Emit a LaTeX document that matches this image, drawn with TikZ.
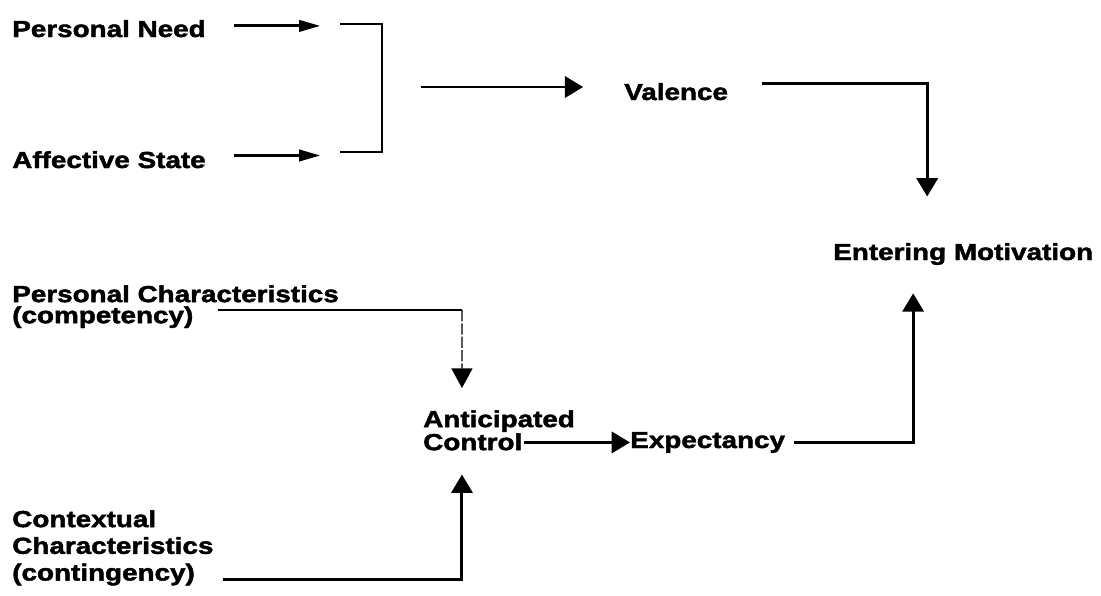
\documentclass[tikz,border=0pt]{standalone}
\usepackage{fontspec}
\usepackage{tikz}
\usetikzlibrary{arrows.meta, positioning}
\newfontfamily\diagfont[FakeStretch=1.2, BoldFeatures={FakeBold=2}]{Liberation Sans}
\tikzset{
x=0.025cm, y=-0.025cm, % one unit is one pixel of the scan
every node/.style={inner sep=0pt, font=\diagfont\bfseries\fontsize{16.5}{15}\selectfont}, % bold sans labels
label/.style={align=left}, % the factor names
link/.style={line width=2.1pt}, % plain connector
arr/.style={link, -{Triangle[length=13pt, width=15pt]}}, % connector with a filled head
smallarr/.style={link, -{Triangle[length=15pt, width=8pt]}}, % the two short ones on the left
thinarr/.style={line width=0.9pt, dash pattern=on 8pt off 1.5pt, -{Triangle[length=14pt, width=15pt]}}, % the lighter one
}

\begin{document}
\begin{tikzpicture}
    \useasboundingbox (0,0) rectangle (1101,595);
    \node[label, anchor=base west] (need) at (12,37) {Personal Need};
    \node[label, anchor=base west] (affect) at (12,168) {Affective State};
    \node[label, anchor=base west] (valence) at (624,100) {Valence};
    \node[label, anchor=base west] (entering) at (833,260) {Entering Motivation};
    \node[label, anchor=north west] (perschar) at (12,285) {Personal Characteristics\\(competency)};
    \node[label, anchor=north west] (anticip) at (423,410) {Anticipated\\Control};
    \node[label, anchor=base west] (expect) at (630,448) {Expectancy};
    \node[label, anchor=north west] (context) at (12,510) {Contextual\\[4pt]Characteristics\\[4pt](contingency)};
    \coordinate (brtl) at (340,24);
    \coordinate (brbl) at (340,152);
    \coordinate (brmid) at (382,87);
    \coordinate (pcturn) at (462,310);
    % valence side
    \draw[smallarr] ([xshift=20pt, yshift=2pt]need.east) -- ([xshift=-14pt, yshift=2pt]need.east -| brtl);
    \draw[smallarr] ([xshift=20pt, yshift=3pt]affect.east) -- ([xshift=-14pt, yshift=3pt]affect.east -| brbl);
    \draw[link] (brtl) -- ++(42,0) |- (brbl);
    \draw[arr] ([xshift=28pt]brmid) -- ([xshift=-29pt]brmid -| valence.west);
    \draw[arr] ([xshift=24pt, yshift=5.7pt]valence.east) -| ([xshift=67pt, yshift=33pt]entering.north west);
    % expectancy side
    \draw[link] ([xshift=146.5pt]perschar.south west |- pcturn) -- (pcturn);
    \draw[thinarr] (pcturn) -- ([xshift=27.7pt, yshift=15.6pt]anticip.north west);
    \draw[arr] ([xshift=150pt, yshift=4.3pt]context.south west) -| ([xshift=27.7pt, yshift=-17pt]anticip.south west);
    \draw[arr] ([xshift=72pt]anticip.south west |- expect.west) -- (expect.west);
    \draw[arr] ([xshift=6pt]expect.east) -| ([xshift=57pt, yshift=-20pt]entering.south west);
\end{tikzpicture}
\end{document}
